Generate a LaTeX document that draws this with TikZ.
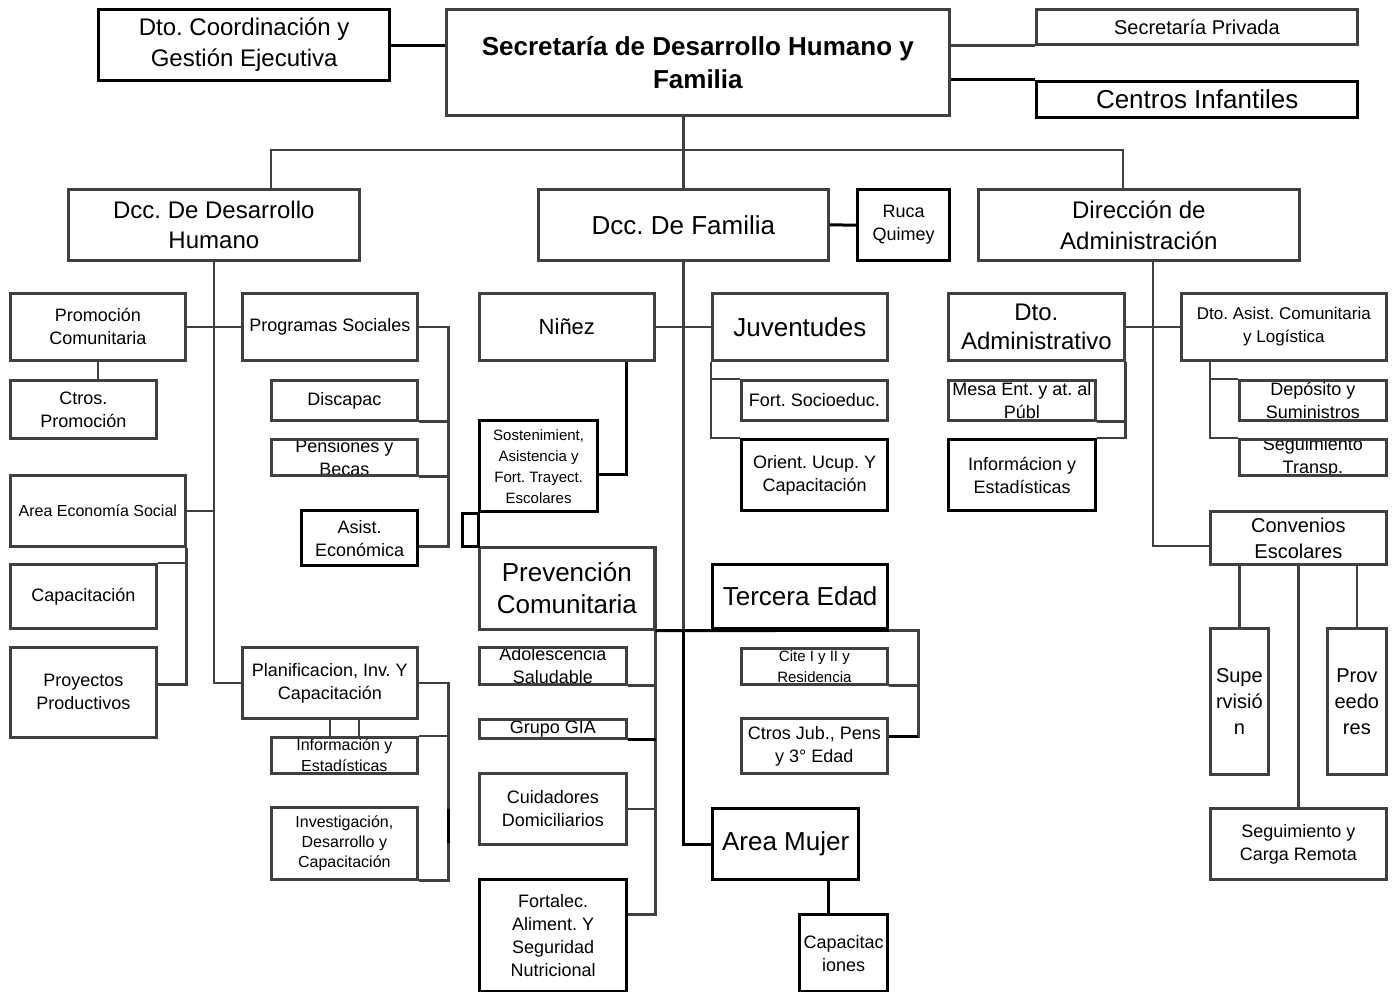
\documentclass[tikz,border=0pt]{standalone}
\usepackage{fontspec}
\setmainfont{Liberation Sans}
\usetikzlibrary{positioning, calc}
\frenchspacing
\definecolor{linegray}{RGB}{64,64,64}
\newcommand{\fsz}[2]{\fontsize{#1}{#2}\selectfont}
\tikzset{
  office/.style={draw=linegray, line width=2.7pt, align=center, inner sep=0pt,
    anchor=north west, font=\fsz{18}{23}},
  keyoffice/.style={office, draw=black, line width=3.3pt},
  wh/.style 2 args={minimum width=#1pt, minimum height=#2pt},
  % text that runs past the box is cut at its border
  cut/.style={path picture={\node[anchor=center, draw=none, minimum width=0pt,
      minimum height=0pt, inner sep=0pt, align=center, path picture={}]
      at (path picture bounding box.center) {#1};}},
  link/.style={draw=linegray, line width=2.7pt},
  blk/.style={draw=black, line width=3pt},
}

\begin{document}
\begin{tikzpicture}[x=1pt, y=-1pt]
  \useasboundingbox (0,0) rectangle (1394,992);

  % secretaria
  \node[office, wh={503}{106}, font=\bfseries\fsz{26}{33}] (sec) at (445,8) {Secretaría de Desarrollo Humano y\\Familia};
  \node[keyoffice, wh={291}{71}, font=\fsz{24}{31}] (coord) at (97,8) {Dto. Coordinación y\\Gestión Ejecutiva};
  \node[office, wh={321}{35}, font=\fsz{20}{25}] (priv) at (1035,8) {Secretaría Privada};
  \node[keyoffice, wh={321}{36}, font=\fsz{26}{32}] (cinf) at (1035,80) {Centros Infantiles};

  \node[office, wh={291}{71}, font=\fsz{24}{30}] (dh) at (67,188) {Dcc. De Desarrollo\\Humano};
  \node[office, wh={290}{71}, font=\fsz{26}{32}] (fam) at (537,188) {Dcc. De Familia};
  \node[keyoffice, wh={92}{71}] (ruca) at (856,188) {Ruca\\Quimey};
  \node[office, wh={321}{71}, font=\fsz{24}{31}] (adm) at (977,188) {Dirección de\\Administración};

  % desarrollo humano
  \node[office, wh={175}{67}] (promo) at (9,292) {Promoción\\Comunitaria};
  \node[office, wh={175}{67}] (progs) at (241,292) {Programas Sociales};
  \node[office, wh={146}{58}] (ctrosp) at (9,379) {Ctros.\\Promoción};
  \node[office, wh={146}{40}] (discap) at (270,379) {Discapac};
  \node[office, wh={146}{36}, cut={Pensiones y\\Becas}] (pens) at (270,438) {};
  \node[keyoffice, wh={116}{55}] (asist) at (300,509) {Asist.\\Económica};
  \node[office, wh={175}{71}, font=\fsz{16}{20}] (eco) at (9,474) {Area Economía Social};
  \node[office, wh={146}{64}] (capac) at (9,563) {Capacitación};
  \node[office, wh={146}{90}] (proy) at (9,646) {Proyectos\\Productivos};
  \node[office, wh={175}{71}] (planif) at (241,646) {Planificacion, Inv. Y\\Capacitación};
  \node[office, wh={146}{36}, font=\fsz{16}{21}, cut={Información y\\Estadísticas}] (infoL) at (270,736) {};
  \node[office, wh={146}{72}, font=\fsz{16}{20}] (invest) at (270,806) {Investigación,\\Desarrollo y\\Capacitación};

  % familia
  \node[office, wh={175}{67}, font=\fsz{22}{28}] (ninez) at (478,292) {Niñez};
  \node[office, wh={175}{67}, font=\fsz{26}{32}] (juv) at (711,292) {Juventudes};
  \node[office, wh={146}{40}] (fortsoc) at (740,379) {Fort. Socioeduc.};
  \node[keyoffice, wh={146}{71}] (orient) at (740,438) {Orient. Ucup. Y\\Capacitación};
  \node[keyoffice, wh={118}{91}, font=\fsz{15}{21}] (sost) at (478,419) {Sostenimient,\\Asistencia y\\Fort. Trayect.\\Escolares};
  \node[office, wh={175}{82}, font=\fsz{26}{32}] (prev) at (478,546) {Prevención\\Comunitaria};
  \node[office, wh={147}{37}, cut={Adolescencia\\Saludable}] (adol) at (478,646) {};
  \node[office, wh={147}{19}, cut={Grupo GIA}] (gia) at (478,718) {};
  \node[office, wh={147}{71}] (cuid) at (478,772) {Cuidadores\\Domiciliarios};
  \node[keyoffice, wh={147}{112}] (fortal) at (478,878) {Fortalec.\\Aliment. Y\\Seguridad\\Nutricional};
  \node[keyoffice, wh={175}{64}, font=\fsz{26}{32}] (tercera) at (711,563) {Tercera Edad};
  \node[office, wh={146}{36}, font=\fsz{15}{21}, cut={Cite I y II y\\Residencia}] (cite) at (740,647) {};
  \node[office, wh={146}{55}] (ctrosj) at (740,717) {Ctros Jub., Pens\\y 3° Edad};
  \node[keyoffice, wh={146}{71}, font=\fsz{26}{32}] (mujer) at (711,807) {Area Mujer};
  \node[keyoffice, wh={88}{77}] (capmuj) at (798,913) {Capacitac\\iones};

  % administracion
  \node[office, wh={176}{67}, font=\fsz{24}{29}] (dtoadm) at (947,292) {Dto.\\Administrativo};
  \node[office, wh={205}{67}, font=\fsz{17}{23}] (asistcom) at (1180,292) {Dto. Asist. Comunitaria\\y Logística};
  \node[office, wh={147}{40}, cut={Mesa Ent. y at. al\\Públ}] (mesa) at (947,379) {};
  \node[keyoffice, wh={147}{71}] (infoA) at (947,438) {Informácion y\\Estadísticas};
  \node[office, wh={147}{40}, cut={Depósito y\\Suministros}] (depo) at (1238,379) {};
  \node[office, wh={147}{36}, cut={Seguimiento\\Transp.}] (segtr) at (1238,438) {};
  \node[office, wh={176}{53}, font=\fsz{20}{26}] (conv) at (1209,510) {Convenios\\Escolares};
  \node[office, wh={58}{146}, font=\fsz{20}{26}] (superv) at (1209,627) {Supe\\rvisió\\n};
  \node[office, wh={59}{146}, font=\fsz{20}{26}] (prov) at (1326,627) {Prov\\eedo\\res};
  \node[office, wh={176}{71}] (segcarga) at (1209,807) {Seguimiento y\\Carga Remota};

  % top level links
  \coordinate (busL) at (271,150);
  \coordinate (busR) at (1123,150);
  \draw[blk] (coord.east) -- (coord.east -| sec.west);
  \draw[link] (sec.east |- priv.south) -- (priv.south west);
  \draw[blk] (sec.east |- cinf.north) -- (cinf.north west);
  \draw[link] (fam.north |- sec.south) -- (fam.north);
  \draw[link] (busL |- dh.north) -- (busL) -- (busR) -- (busR |- adm.north);
  \draw[blk] (fam.east) -- (ruca.west);

  % desarrollo humano links
  \draw[link] (dh.south) |- (planif.west);
  \draw[link] (promo.east) -- (progs.west);
  \draw[link] (promo.south) -- (promo.south |- ctrosp.north);
  \draw[link] (eco.east) -- (eco.east -| dh.south);
  \draw[link] (progs.east) -- ++(30,0) |- ([yshift=-8pt]asist.east);
  \draw[link] (discap.south east) -- ++(30,0);
  \draw[link] (pens.south east) -- ++(30,0);
  \draw[link] (eco.south east) |- ([yshift=8pt]proy.east);
  \draw[link] (capac.north east) -- (capac.north east -| eco.east);
  \draw[link] (planif.east) -- ++(30,0) |- (invest.south east);
  \draw[link] (infoL.north east) -- ++(30,0);
  \draw[link] (planif.south) -- (planif.south |- infoL.north);
  \draw[link] ([xshift=29pt]planif.south) -- ([xshift=29pt]planif.south |- infoL.north);
  \draw[blk] ([xshift=30pt,yshift=34pt]invest.east) -- ([xshift=30pt]invest.east);

  % familia links
  \draw[link] (fam.south) -- (fam.south |- tercera.south);
  \draw[blk] (fam.south |- tercera.south) |- (mujer.west);
  \draw[link] (ninez.east) -- (juv.west);
  \draw[link] (juv.south west) |- (orient.north west);
  \draw[link] (fortsoc.north west) -- (fortsoc.north west -| juv.west);
  \draw[blk] ([xshift=-29pt]ninez.south east) |- ([yshift=-8pt]sost.east);
  \draw[blk] (sost.south west) -- ++(-16,0) |- (prev.north west) -- cycle;
  \draw[link] (prev.north east) |- ([yshift=21pt]fortal.east);
  \draw[link] (adol.south east) -- (adol.south east -| prev.east);
  \draw[blk] (gia.south east) -- (gia.south east -| prev.east);
  \draw[link] (cuid.east) -- (cuid.east -| prev.east);
  \draw[blk] (prev.south east) -- (tercera.south east);
  \draw[link] (tercera.south east) -- ++(29,0) |- ([yshift=9pt]ctrosj.east);
  \draw[link] (cite.south east) -- ++(29,0);
  \draw[blk] ([yshift=9pt]ctrosj.east) -- ++(29,0);
  \draw[blk] ([xshift=-15pt]capmuj.north) -- ([xshift=-15pt]capmuj.north |- mujer.south);

  % administracion links
  \draw[link] ([xshift=14pt]adm.south) |- ([yshift=-8pt]conv.west);
  \draw[link] (dtoadm.east) -- (asistcom.west);
  \draw[link] (dtoadm.south east) |- (infoA.north east);
  \draw[link] (mesa.south east) -- (mesa.south east -| dtoadm.east);
  \draw[link] ([xshift=30pt]asistcom.south west) |- (segtr.north west);
  \draw[link] (depo.north west) -- ++(-28,0);
  \draw[link] (superv.north) -- (superv.north |- conv.south);
  \draw[link] (prov.north) -- (prov.north |- conv.south);
  \draw[link] (segcarga.north) -- (segcarga.north |- conv.south);
\end{tikzpicture}
\end{document}
